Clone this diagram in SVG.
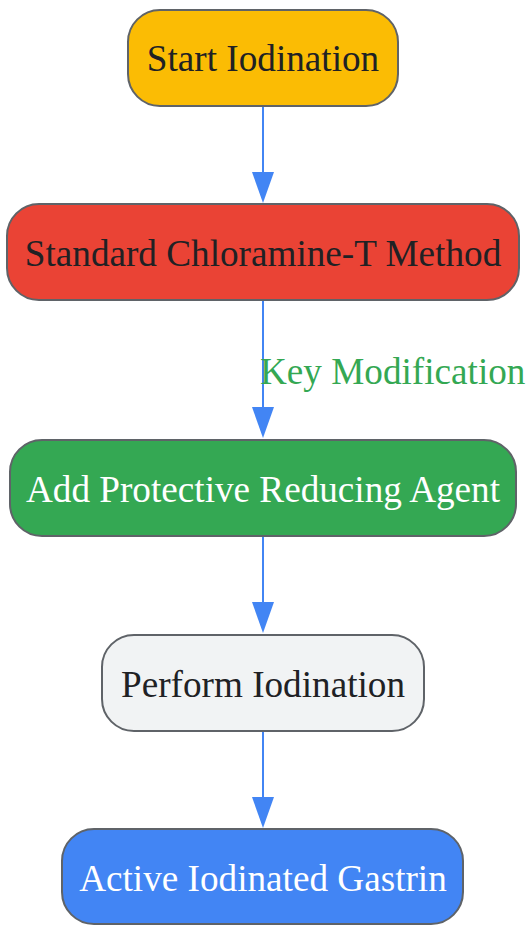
<svg xmlns="http://www.w3.org/2000/svg" width="527" height="926" viewBox="0 0 527 926">
<defs>
<style>
.node rect{stroke:#5f6368;stroke-width:2}
.node text{font-family:"Liberation Serif","Times New Roman",serif;font-size:37.2px;text-anchor:middle}
.dark{fill:#202124}
.light{fill:#ffffff}
.edge{stroke:#4285F4;stroke-width:2;fill:none}
.lbl{font-family:"Liberation Serif","Times New Roman",serif;font-size:37.2px;fill:#34A853}
</style>
</defs>
<rect width="527" height="926" fill="#ffffff"/>
<g id="connectors">
<line class="edge" x1="263" y1="106" x2="263" y2="173"/>
<path d="M252,172 L274,172 L263,203 Z" fill="#4285F4"/>
<line class="edge" x1="263" y1="300" x2="263" y2="408"/>
<path d="M252,407 L274,407 L263,438 Z" fill="#4285F4"/>
<text class="lbl" x="260" y="384">Key Modification</text>
<line class="edge" x1="263" y1="536" x2="263" y2="603"/>
<path d="M252,602 L274,602 L263,633 Z" fill="#4285F4"/>
<line class="edge" x1="263" y1="731" x2="263" y2="798"/>
<path d="M252,797 L274,797 L263,828 Z" fill="#4285F4"/>
</g>
<g id="start" class="node">
<rect x="128" y="10" width="270" height="96" rx="32" fill="#FBBC04"/>
<text class="dark" x="263" y="71">Start Iodination</text>
</g>
<g id="standard" class="node">
<rect x="7" y="204" width="512" height="96" rx="32" fill="#EA4335"/>
<text class="dark" x="263" y="266">Standard Chloramine-T Method</text>
</g>
<g id="protective" class="node">
<rect x="10" y="440" width="506" height="96" rx="32" fill="#34A853"/>
<text class="light" x="263" y="502">Add Protective Reducing Agent</text>
</g>
<g id="perform" class="node">
<rect x="102" y="635" width="322" height="96" rx="32" fill="#F1F3F4"/>
<text class="dark" x="263" y="697">Perform Iodination</text>
</g>
<g id="active" class="node">
<rect x="62" y="829" width="401" height="95" rx="32" fill="#4285F4"/>
<text class="light" x="263" y="891">Active Iodinated Gastrin</text>
</g>
</svg>
